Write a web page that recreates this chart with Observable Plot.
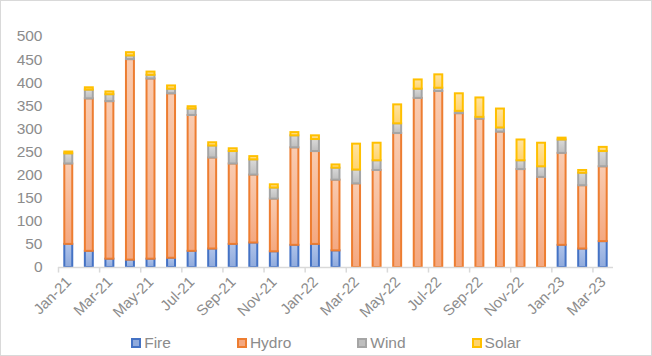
<!DOCTYPE html>
<html><head><meta charset="utf-8">
<script src="https://cdn.jsdelivr.net/npm/d3@7"></script>
<script src="https://cdn.jsdelivr.net/npm/@observablehq/plot@0.6"></script>
<style>
body{margin:0;background:#fff;}
#wrap{position:relative;width:652px;height:356px;overflow:hidden;font-family:"Liberation Sans",Arial,sans-serif;}
#wrap svg{position:absolute;left:0;top:0;}
#border{position:absolute;left:0;top:0;width:652px;height:356px;box-sizing:border-box;border:1px solid #d9d9d9;pointer-events:none;}
#legend{position:absolute;left:0;right:0;top:333px;display:flex;justify-content:center;gap:66px;color:#8c8c8c;font-size:15.5px;line-height:20px;}
#legend .item{display:flex;align-items:center;}
#legend .sw{width:6px;height:6px;border-width:2px;border-style:solid;margin-right:3px;}
</style></head>
<body>
<div id="wrap"><div id="legend"></div><div id="border"></div></div>
<script>
const months = ["Jan-21","Feb-21","Mar-21","Apr-21","May-21","Jun-21","Jul-21","Aug-21","Sep-21","Oct-21","Nov-21","Dec-21",
  "Jan-22","Feb-22","Mar-22","Apr-22","May-22","Jun-22","Jul-22","Aug-22","Sep-22","Oct-22","Nov-22","Dec-22",
  "Jan-23","Feb-23","Mar-23"];
const seriesNames = ["Fire","Hydro","Wind","Solar"];
const fire  = [50,35,18,16,18,20,35,40,50,53,34,48,50,36,0,0,0,0,0,0,0,0,0,0,48,40,56];
const hydro = [174,330,341,434,390,356,294,197,174,147,114,211,201,153,181,210,290,366,381,333,321,293,212,195,199,137,162];
const wind  = [22,19,15,8,8,10,14,26,27,33,24,26,26,26,30,21,21,20,7,5,4,9,19,23,29,27,33];
const solar = [4,5,6,7,7,7,5,7,6,7,7,7,8,7,56,38,41,20,29,38,42,41,45,51,4,6,9];
const yTicks = [0,50,100,150,200,250,300,350,400,450,500];
const xTickLabels = months.filter((m,i)=>i%2===0);

const strokeColors = {Fire:"#4472C4", Hydro:"#ED7D31", Wind:"#A5A5A5", Solar:"#FFC000"};
const gradStops = {
  Fire:["#AFC3EA","#8FAADC"],
  Hydro:["#F9CBB0","#F4A880"],
  Wind:["#DADADA","#BEBEBE"],
  Solar:["#FFE3A0","#FFD46E"]
};

const values = {Fire:fire, Hydro:hydro, Wind:wind, Solar:solar};
const rows = [];
months.forEach((m,i)=>{ seriesNames.forEach(s=>rows.push({month:m, series:s, value:values[s][i]})); });

const W = 652, H = 325;
const mL = 58, mR = 39;
const step = (W - mL - mR) / months.length;

const chart = Plot.plot({
  width: W, height: H,
  marginLeft: mL, marginRight: mR, marginTop: 36, marginBottom: 58,
  style: {fontFamily: '"Liberation Sans", Arial, sans-serif', background: "transparent"},
  x: {domain: months, padding: 0, round: false, label: null},
  y: {domain: [0,500], label: null},
  color: {type: "identity"},
  marks: [
    Plot.barY(rows, Plot.stackY({
      x: "month", y: "value", z: "series", order: seriesNames,
      fill: d => `url(#grad-${d.series})`,
      stroke: d => strokeColors[d.series],
      strokeWidth: 2,
      inset: 6.3, insetTop: 0, insetBottom: 0
    })),
    Plot.ruleY([0], {stroke:"#d9d9d9", strokeWidth:1.5}),
    Plot.ruleX(xTickLabels, {x: d=>d, dx: -step/2, y1: 0, y2: -12, stroke:"#d9d9d9", strokeWidth:1.5}),
    Plot.axisY({ticks: yTicks, tickSize: 0, tickPadding: 16, fontSize: 15.5, fill: "#8c8c8c", label: null}),
    Plot.axisX({ticks: xTickLabels, tickSize: 0, tickPadding: 12, tickRotate: -45, fontSize: 15, fill: "#8c8c8c", label: null})
  ]
});

const defs = d3.select(chart).insert("defs", ":first-child");
seriesNames.forEach(s=>{
  const g = defs.append("linearGradient").attr("id", `grad-${s}`).attr("x1",0).attr("y1",0).attr("x2",0).attr("y2",1);
  g.append("stop").attr("offset","0%").attr("stop-color", gradStops[s][0]);
  g.append("stop").attr("offset","100%").attr("stop-color", gradStops[s][1]);
});

document.getElementById("wrap").prepend(chart);

const legend = d3.select("#legend");
seriesNames.forEach(s=>{
  const it = legend.append("div").attr("class","item");
  it.append("div").attr("class","sw").style("border-color", strokeColors[s]).style("background", gradStops[s][1]);
  it.append("span").text(s);
});
</script>
</body></html>
